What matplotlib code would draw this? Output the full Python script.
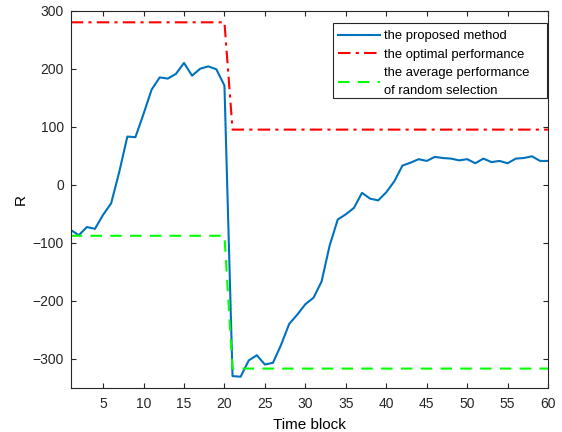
import numpy as np
import matplotlib.pyplot as plt
from matplotlib.patches import Rectangle

plt.rcParams['font.family'] = ['Liberation Sans', 'DejaVu Sans']

# time blocks
blocks = np.arange(1, 61)

# reward of the proposed method
proposed = [-78, -87, -73, -76, -52, -32, 22, 83, 82, 122,
            164, 185, 183, 191, 210, 188, 200, 204, 199, 171,
            -330, -331, -303, -294, -310, -307, -276, -240, -224, -206,
            -195, -167, -105, -60, -51, -40, -14, -24, -27, -13,
            6, 33, 38, 44, 41, 48, 46, 45, 42, 44,
            37, 45, 39, 41, 37, 45, 46, 49, 41, 41]

# optimal and random-selection levels (switch after block 20)
optimal = [280] * 20 + [95] * 40
random_avg = [-88] * 20 + [-317] * 40

fig = plt.figure(figsize=(5.62, 4.32), dpi=100)
ax = fig.add_axes([0.1258, 0.1025, 0.8495, 0.8727])

ax.plot(blocks, proposed, color='#0072BD', lw=1.5, label='the proposed method')
ax.plot(blocks, optimal, color='#FF0000', lw=1.5, ls=(0, (6, 2.5, 1.5, 2.5)),
        label='the optimal performance')
ax.plot(blocks, random_avg, color='#00FF00', lw=1.5, ls=(0, (5.5, 4)),
        label='the average performance\nof random selection')

ax.set_xlim(1, 60)
ax.set_ylim(-350, 300)
ax.set_xticks(np.arange(5, 61, 5))
ax.set_yticks(np.arange(-300, 301, 100))
ax.tick_params(direction='in', top=True, right=True, labelsize=10,
               colors='#262626', length=3.6)
ax.tick_params(axis='x', pad=7)
ax.tick_params(axis='y', pad=5)
for s in ax.spines.values():
    s.set_color('#262626')
    s.set_linewidth(0.8)

ax.set_xlabel('Time block', fontsize=11, labelpad=5)
ax.set_ylabel('R', fontsize=11, labelpad=3)

# legend without frame, frame drawn after with extra room on the right (MATLAB style)
leg = fig.legend(loc='upper right', bbox_to_anchor=(534 / 562, 1 - 25.5 / 432),
                 fontsize=9.4, frameon=False, handlelength=3.2, borderpad=0.35,
                 labelspacing=0.5, handletextpad=0.3, borderaxespad=0.0)
for t in leg.get_texts():
    t.set_linespacing(1.6)

fig.canvas.draw()
bb = leg.get_window_extent()
frame = Rectangle((bb.x0 - 1, bb.y0 + 3), bb.width + 14, bb.height - 0.5,
                  transform=None, fill=True, facecolor='white',
                  edgecolor='#262626', lw=0.8, zorder=leg.get_zorder() - 0.1)
fig.add_artist(frame)

fig.savefig('out.png', dpi=100)
